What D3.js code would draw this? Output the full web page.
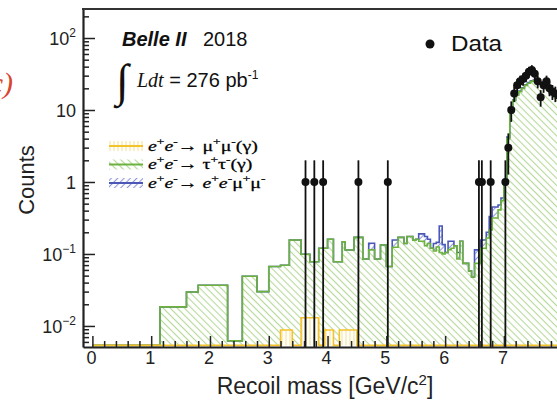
<!DOCTYPE html>
<html>
<head>
<meta charset="utf-8">
<script src="https://cdn.jsdelivr.net/npm/d3@7"></script>
<style>
  html, body { margin: 0; padding: 0; background: #fff; overflow: hidden; }
  svg { display: block; }
</style>
</head>
<body>
<svg id="chart" width="557" height="406"></svg>
<script>
// ---- histogram binning (GeV/c^2), shared by the three simulated samples ----
const edges = [0, 1.15, 1.6, 1.8, 2.3, 2.55, 2.8, 3.0, 3.2, 3.35, 3.4, 3.55, 3.7, 3.85, 3.95, 4.0,
  4.1, 4.2, 4.25, 4.3, 4.35, 4.45, 4.5, 4.6, 4.7, 4.8, 4.9, 5.0, 5.1, 5.2, 5.3, 5.35, 5.45, 5.5,
  5.55, 5.65, 5.7, 5.75, 5.8, 5.85, 5.9, 5.95, 6.0, 6.05, 6.1, 6.15, 6.2, 6.25, 6.3, 6.4, 6.45,
  6.5, 6.6, 6.7, 6.75, 6.8, 6.9, 6.95, 7.0, 7.05, 7.1, 7.15, 7.2, 7.25, 7.3, 7.35, 7.4, 7.45,
  7.5, 7.55, 7.6, 7.65, 7.7, 7.75, 7.8, 7.85, 7.9, 7.95, 8.0, 8.5];

// e+e- -> mu+mu-(gamma)
const mumu = [0, 0, 0, 0, 0, 0, 0, 0, 0.0088, 0.0088, 0, 0.013, 0.013, 0, 0.0088, 0.0088,
  0, 0.0088, 0.0088, 0.0088, 0.0088, 0.0088, 0, 0, 0, 0, 0, 0, 0, 0, 0, 0, 0, 0,
  0, 0, 0, 0, 0, 0, 0, 0, 0, 0, 0, 0, 0, 0, 0, 0, 0,
  0, 0, 0, 0, 0, 0, 0, 0, 0, 0, 0, 0, 0, 0, 0, 0, 0,
  0, 0, 0, 0, 0, 0, 0, 0, 0, 0, 0];

// e+e- -> tau+tau-(gamma)
const tautau = [0, 0.0184, 0.0296, 0.0367, 0.0062, 0.049, 0.030, 0.067, 0.061, 0.147, 0.156, 0.086, 0.065, 0.12, 0.111, 0.151,
  0.078, 0.069, 0.139, 0.105, 0.105, 0.161, 0.17, 0.085, 0.114, 0.085, 0.133, 0.067, 0.124, 0.17, 0.14, 0.175, 0.155, 0.16,
  0.15, 0.13, 0.14, 0.12, 0.11, 0.125, 0.105, 0.10, 0.105, 0.115, 0.12, 0.13, 0.085, 0.15, 0.074, 0.058, 0.048,
  0.074, 0.12, 0.167, 0.215, 0.316, 0.41, 0.55, 1.0, 4.0, 9.0, 13.5, 16, 18, 20, 22, 23.5, 25,
  25.5, 24.5, 23.5, 23, 22, 21, 19.5, 18, 17, 15.5, 14];

// e+e- -> e+e-mu+mu-
const eemumu = [0, 0, 0, 0, 0, 0, 0, 0, 0, 0, 0, 0, 0, 0, 0, 0,
  0, 0, 0, 0, 0, 0, 0, 0, 0.027, 0, 0, 0, 0.032, 0, 0, 0, 0, 0,
  0.04, 0.045, 0.02, 0, 0.03, 0.02, 0.14, 0.035, 0, 0.035, 0.03, 0, 0.02, 0, 0, 0, 0,
  0.04, 0.036, 0.033, 0.115, 0.134, 0.07, 0.05, 0.05, 0.2, 0.3, 0.3, 0.3, 0.4, 0.4, 0.4, 0.5, 0.5,
  0.5, 0.5, 0.5, 0.5, 0.4, 0.4, 0.4, 0.4, 0.3, 0.3, 0.3];

// recorded events: bin centres and counts
const dataMass = [3.625, 3.775, 3.925, 4.525, 5.025, 6.575, 6.625, 6.775, 7.025, 7.075, 7.125,
  7.175, 7.225, 7.275, 7.325, 7.375, 7.425, 7.475, 7.525, 7.575, 7.625, 7.675, 7.725, 7.775,
  7.825, 7.875, 7.925];
const dataCounts = [1, 1, 1, 1, 1, 1, 1, 1, 1, 3, 10,
  17, 22, 25, 27, 30, 34, 36, 32, 25, 15, 22, 25, 20,
  18, 17, 16];

const xTickValues = [0, 1, 2, 3, 4, 5, 6, 7, 8];
const yTickExponents = [-2, -1, 0, 1, 2];

// ---- layout ----
const svg = d3.select("#chart");
const padL = 83, padT = 9, baseY = 347;
const x = d3.scaleLinear().domain([-0.16, 8.0]).range([padL, 562.7]);
const y = d3.scaleLog().domain([0.0051, 253]).range([baseY, padT]);
// empty bins sit on the floor, just above the axis line
const yc = v => v <= y.domain()[0] ? baseY - 1.6 : y(v);

const colors = {
  mumu: "#f4c22b", mumuHatch: "#f7df8e",
  tau: "#6cb33e", tauHatch: "#b6d99a",
  ee: "#4b57b8", eeHatch: "#8e98d8"
};

// hatch patterns
const defs = svg.append("defs");
function hatch(id, angle, color, gap, width) {
  const p = defs.append("pattern").attr("id", id)
    .attr("patternUnits", "userSpaceOnUse")
    .attr("width", gap).attr("height", gap)
    .attr("patternTransform", `rotate(${angle})`);
  p.append("rect").attr("width", gap).attr("height", gap).attr("fill", "#fff");
  p.append("line").attr("x1", gap / 2).attr("x2", gap / 2).attr("y1", 0).attr("y2", gap)
    .attr("stroke", color).attr("stroke-width", width);
}
hatch("hTau", -45, colors.tauHatch, 5, 1.1);
hatch("hEe", 45, colors.eeHatch, 4.5, 1.1);
hatch("hMu", 0, colors.mumuHatch, 4, 1);
defs.append("clipPath").attr("id", "plotClip").append("rect")
  .attr("x", padL).attr("y", padT).attr("width", 600).attr("height", baseY - padT);

// stacked levels per bin: mumu, mumu+tautau, mumu+tautau+eemumu
const bins = d3.range(edges.length - 1).map(i => {
  const m = mumu[i], t = m + tautau[i], e = t + eemumu[i];
  return { lo: edges[i], hi: edges[i + 1], m, t, e };
});
function stepPoints(key0, key1) {
  const pts = [];
  bins.forEach(b => {
    pts.push({ x: b.lo, y0: key0 ? b[key0] : 0, y1: b[key1] });
    pts.push({ x: b.hi, y0: key0 ? b[key0] : 0, y1: b[key1] });
  });
  return pts;
}
const area = d3.area().x(d => x(d.x)).y0(d => yc(d.y0)).y1(d => yc(d.y1));
const line = d3.line().x(d => x(d.x)).y(d => yc(d.y1));

const plot = svg.append("g").attr("clip-path", "url(#plotClip)");
const layers = [
  { lo: "t", hi: "e", fill: "url(#hEe)", stroke: colors.ee },
  { lo: "m", hi: "t", fill: "url(#hTau)", stroke: colors.tau },
  { lo: null, hi: "m", fill: "url(#hMu)", stroke: colors.mumu }
];
layers.forEach(L => {
  const pts = stepPoints(L.lo, L.hi);
  plot.append("path").attr("d", area(pts)).attr("fill", L.fill).attr("stroke", "none");
});
layers.forEach(L => {
  const pts = stepPoints(null, L.hi);
  plot.append("path").attr("d", line(pts)).attr("fill", "none")
    .attr("stroke", L.stroke).attr("stroke-width", 1.6);
});

// data points with sqrt(N) errors
const pts = dataMass.map((m, i) => ({ m, n: dataCounts[i] }));
const dg = plot.append("g");
dg.selectAll("line.err").data(pts).join("line").attr("class", "err")
  .attr("x1", d => x(d.m)).attr("x2", d => x(d.m))
  .attr("y1", d => yc(d.n + Math.sqrt(d.n)))
  .attr("y2", d => d.n - Math.sqrt(d.n) <= 0 ? baseY : yc(d.n - Math.sqrt(d.n)))
  .attr("stroke", "#111").attr("stroke-width", 1.8);
dg.selectAll("circle").data(pts).join("circle")
  .attr("cx", d => x(d.m)).attr("cy", d => yc(d.n)).attr("r", 4)
  .attr("fill", "#111");

// ---- axes ----
const font = "'Liberation Sans', Arial, Helvetica, sans-serif";
const serif = "'Liberation Serif', 'Times New Roman', serif";

const xMinor = d3.range(0, 8.01, 0.2).filter(v => Math.abs(v - Math.round(v)) > 1e-6);
svg.append("g").attr("transform", `translate(0,${baseY})`)
  .call(d3.axisBottom(x).tickValues(xMinor).tickSize(-6).tickSizeOuter(0).tickFormat(""))
  .call(g => g.select(".domain").remove())
  .selectAll("line").attr("stroke", "#222").attr("stroke-width", 1.5);
const gx = svg.append("g").attr("transform", `translate(0,${baseY})`)
  .call(d3.axisBottom(x).tickValues(xTickValues).tickSize(-11).tickSizeOuter(0).tickPadding(8)
    .tickFormat(d3.format("d")));
gx.select(".domain").attr("stroke", "#222").attr("stroke-width", 2.2);
gx.selectAll(".tick line").attr("stroke", "#222").attr("stroke-width", 1.5);
gx.selectAll(".tick text").attr("font-family", font).attr("font-size", 18)
  .attr("fill", "#222").attr("dx", -1.5).attr("dy", "0.95em").attr("y", 0);

const yMinor = [];
for (let d = -3; d <= 2; d++) for (let k = 2; k <= 9; k++) {
  const v = k * Math.pow(10, d);
  if (v > y.domain()[0] && v < y.domain()[1]) yMinor.push(v);
}
svg.append("g").attr("transform", `translate(${padL},0)`)
  .call(d3.axisLeft(y).tickValues(yMinor).tickSize(-6).tickSizeOuter(0).tickFormat(""))
  .call(g => g.select(".domain").remove())
  .selectAll("line").attr("stroke", "#222").attr("stroke-width", 1.5);
const gy = svg.append("g").attr("transform", `translate(${padL},0)`)
  .call(d3.axisLeft(y).tickValues(yTickExponents.map(e => Math.pow(10, e)))
    .tickSize(-12).tickSizeOuter(0).tickPadding(9).tickFormat(""));
gy.select(".domain").attr("stroke", "#222").attr("stroke-width", 2.2);
gy.selectAll(".tick line").attr("stroke", "#222").attr("stroke-width", 1.5);
gy.selectAll(".tick text").each(function (v) {
  const e = Math.round(Math.log10(v));
  const t = d3.select(this).attr("font-family", font).attr("font-size", 18)
    .attr("fill", "#222").attr("dy", "0.36em");
  if (e === 0) t.text("1");
  else if (e === 1) t.text("10");
  else {
    t.append("tspan").text("10");
    t.append("tspan").attr("font-size", 12).attr("dy", -8).text(e < 0 ? "\u2212" + (-e) : String(e));
  }
});
gy.selectAll(".tick text").attr("x", -7);

// top frame
svg.append("line").attr("x1", padL - 1).attr("x2", 557).attr("y1", padT).attr("y2", padT)
  .attr("stroke", "#333").attr("stroke-width", 2);

// ---- titles ----
svg.append("text").attr("transform", "translate(34,180) rotate(-90)")
  .attr("text-anchor", "middle").attr("font-family", font).attr("font-size", 22)
  .attr("fill", "#222").text("Counts");
const xl = svg.append("text").attr("x", 325).attr("y", 394).attr("text-anchor", "middle")
  .attr("font-family", font).attr("font-size", 23).attr("fill", "#222");
xl.append("tspan").text("Recoil mass [GeV/c");
xl.append("tspan").attr("font-size", 15).attr("dy", -9).text("2");
xl.append("tspan").attr("dy", 9).text("]");

// panel tag
svg.append("text").attr("x", 13).attr("y", 93).attr("text-anchor", "end")
  .attr("font-family", serif).attr("font-style", "italic").attr("font-size", 30)
  .attr("fill", "#d8452b").text("(c)");

// experiment labels
svg.append("text").attr("x", 122).attr("y", 46).attr("font-family", font)
  .attr("font-weight", "bold").attr("font-style", "italic").attr("font-size", 20)
  .attr("fill", "#111").text("Belle II");
svg.append("text").attr("x", 203).attr("y", 46).attr("font-family", font)
  .attr("font-size", 20).attr("fill", "#111").text("2018");
svg.append("text").attr("x", 116).attr("y", 96).attr("font-family", serif)
  .attr("font-size", 46).attr("fill", "#111").text("\u222B");
const lumi = svg.append("text").attr("x", 137).attr("y", 87).attr("font-size", 20).attr("fill", "#111");
lumi.append("tspan").attr("font-family", serif).attr("font-style", "italic").text("Ldt");
lumi.append("tspan").attr("font-family", font).text(" = 276 pb");
lumi.append("tspan").attr("font-family", font).attr("font-size", 12).attr("dy", -8).text("-1");

// data legend
svg.append("circle").attr("cx", 430).attr("cy", 44).attr("r", 4.5).attr("fill", "#111");
svg.append("text").attr("x", 451).attr("y", 51).attr("font-family", font)
  .attr("font-size", 22).attr("fill", "#111")
  .attr("transform", "translate(451,0) scale(1.1,1) translate(-451,0)").text("Data");

// simulation legend
const legendRows = [
  { fill: "url(#hMu)", stroke: colors.mumu, parts: [["e", "i"], ["+", "s"], ["e", "i"], ["-", "s"], ["\u2192 \u03BC", ""], ["+", "s"], ["\u03BC", ""], ["-", "s"], ["(\u03B3)", ""]] },
  { fill: "url(#hTau)", stroke: colors.tau, parts: [["e", "i"], ["+", "s"], ["e", "i"], ["-", "s"], ["\u2192 \u03C4", ""], ["+", "s"], ["\u03C4", ""], ["-", "s"], ["(\u03B3)", ""]] },
  { fill: "url(#hEe)", stroke: colors.ee, parts: [["e", "i"], ["+", "s"], ["e", "i"], ["-", "s"], ["\u2192 ", ""], ["e", "i"], ["+", "s"], ["e", "i"], ["-", "s"], ["\u03BC", ""], ["+", "s"], ["\u03BC", ""], ["-", "s"]] }
];
const legRowY = [146, 164.5, 183];
legendRows.forEach((r, i) => {
  const cy = legRowY[i];
  svg.append("rect").attr("x", 109).attr("y", cy - 5).attr("width", 34).attr("height", 10)
    .attr("fill", r.fill);
  svg.append("line").attr("x1", 109).attr("x2", 143).attr("y1", cy).attr("y2", cy)
    .attr("stroke", r.stroke).attr("stroke-width", 2);
  const t = svg.append("g").attr("transform", `translate(148,${cy + 4.5}) scale(1.28,1)`)
    .append("text").attr("font-family", serif)
    .attr("font-size", 15.5).attr("fill", "#000")
    .attr("stroke", "#000").attr("stroke-width", 0.25);
  let up = false;
  r.parts.forEach(([s, k]) => {
    const ts = t.append("tspan").text(s);
    if (k === "i") ts.attr("font-style", "italic");
    if (k === "s") {
      ts.attr("font-size", 10.5);
      if (!up) { ts.attr("dy", -6); up = true; }
    } else if (up) { ts.attr("dy", 6); up = false; }
  });
});
</script>
</body>
</html>
